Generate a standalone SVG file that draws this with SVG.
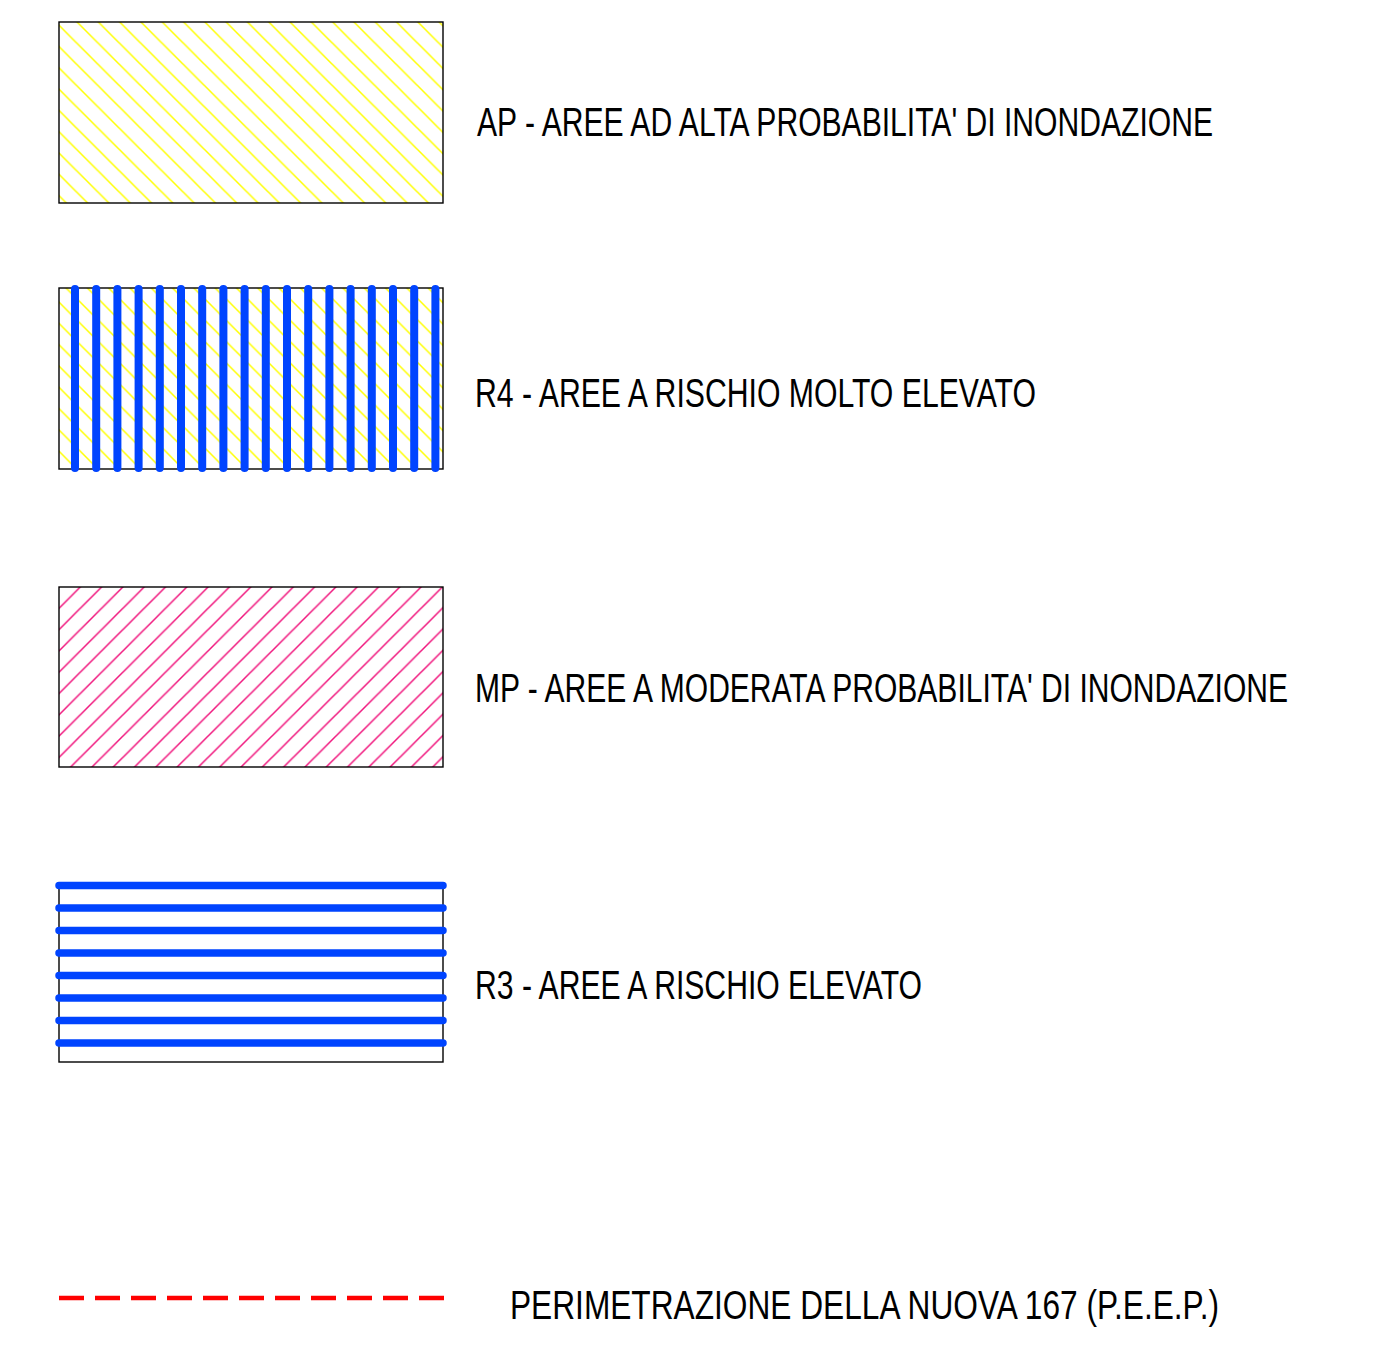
<svg xmlns="http://www.w3.org/2000/svg" width="1378" height="1358" viewBox="0 0 1378 1358">
<style>
.box{stroke:#000;stroke-width:1.4}
.lbl{font-family:"Liberation Sans",Arial,sans-serif;font-size:40px;fill:#000}
.blue{stroke:#0044ff;stroke-linecap:round;fill:none}
</style>
<defs>
<pattern id="yel" patternUnits="userSpaceOnUse" width="21.3" height="21.3" x="55" y="0">
<path d="M-1,20.3 l2,2 M0,0 l21.3,21.3 M20.3,-1 l2,2" stroke="#ffff00" stroke-width="1.5"/>
</pattern>
<pattern id="pink" patternUnits="userSpaceOnUse" width="21.3" height="21.3" x="59" y="587">
<path d="M-1,1 l2,-2 M0,21.3 l21.3,-21.3 M20.3,22.3 l2,-2" stroke="#f0147c" stroke-width="1.5"/>
</pattern>
</defs>
<rect width="1378" height="1358" fill="#fff"/>
<g id="ap">
<rect class="box" x="59" y="22" width="384" height="181" fill="url(#yel)"/>
<text class="lbl" transform="matrix(0.75 0 0 1 477 136)" textLength="981.3" lengthAdjust="spacingAndGlyphs">AP - AREE AD ALTA PROBABILITA' DI INONDAZIONE</text>
</g>
<g id="r4">
<rect class="box" x="59" y="288" width="384" height="181" fill="url(#yel)"/>
<path class="blue" stroke-width="8" d="M75,289V468M96.2,289V468M117.4,289V468M138.6,289V468M159.8,289V468M181,289V468M202.2,289V468M223.4,289V468M244.6,289V468M265.8,289V468M287,289V468M308.2,289V468M329.4,289V468M350.6,289V468M371.8,289V468M393,289V468M414.2,289V468M435.4,289V468"/>
<text class="lbl" transform="matrix(0.75 0 0 1 475 407)" textLength="748" lengthAdjust="spacingAndGlyphs">R4 - AREE A RISCHIO MOLTO ELEVATO</text>
</g>
<g id="mp">
<rect class="box" x="59" y="587" width="384" height="180" fill="url(#pink)"/>
<text class="lbl" transform="matrix(0.75 0 0 1 475 702)" textLength="1084" lengthAdjust="spacingAndGlyphs">MP - AREE A MODERATA PROBABILITA' DI INONDAZIONE</text>
</g>
<g id="r3">
<rect class="box" x="59" y="883" width="384" height="179" fill="none"/>
<path class="blue" stroke-width="7.5" d="M59,885.5H443M59,908H443M59,930.5H443M59,953H443M59,975.5H443M59,998H443M59,1020.5H443M59,1043H443"/>
<text class="lbl" transform="matrix(0.75 0 0 1 475 999)" textLength="596" lengthAdjust="spacingAndGlyphs">R3 - AREE A RISCHIO ELEVATO</text>
</g>
<g id="peep">
<line x1="59" y1="1298" x2="444" y2="1298" stroke="#ff0000" stroke-width="4.5" stroke-dasharray="25 11"/>
<text class="lbl" transform="matrix(0.75 0 0 1 510 1319)" textLength="945.3" lengthAdjust="spacingAndGlyphs">PERIMETRAZIONE DELLA NUOVA 167 (P.E.E.P.)</text>
</g>
<g id="connectors"/>
</svg>
